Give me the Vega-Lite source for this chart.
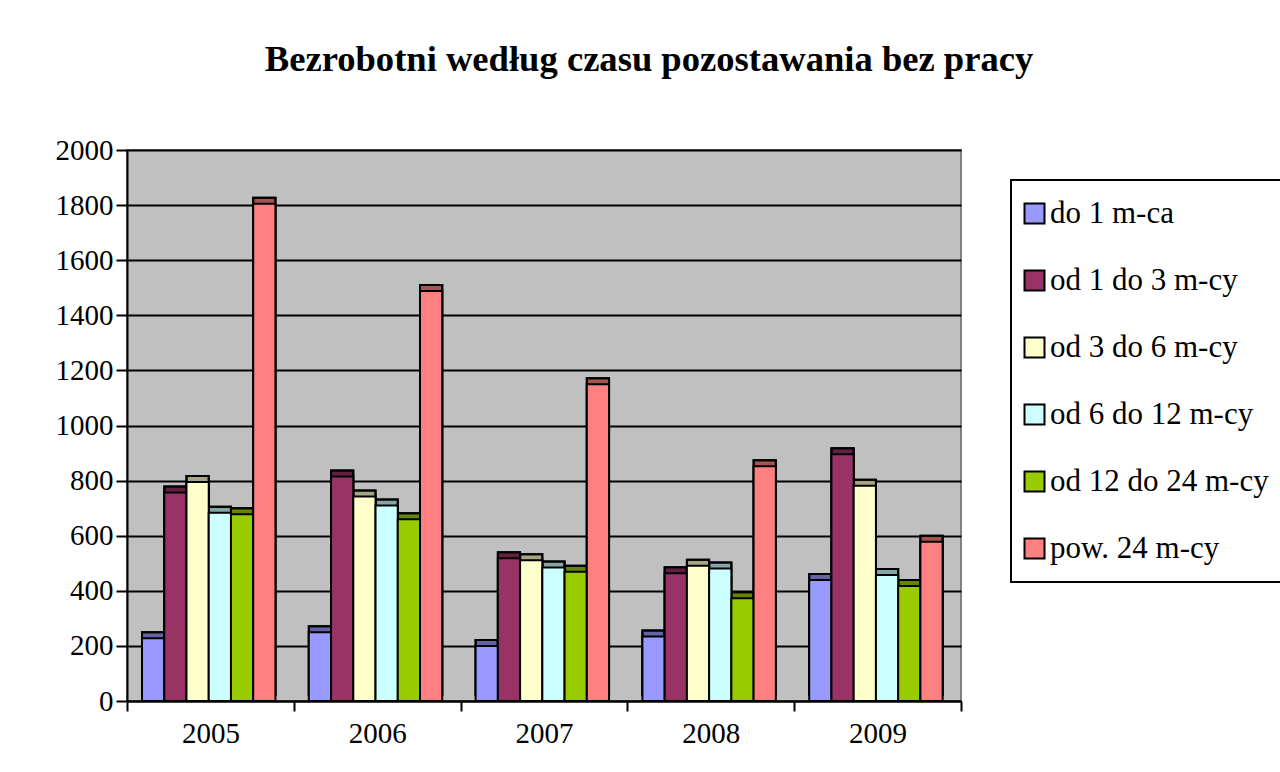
{
  "$schema": "https://vega.github.io/schema/vega-lite/v6.json",
  "width": 834,
  "height": 551,
  "autosize": {"type": "none"},
  "padding": {"left": 127, "top": 150, "right": 319, "bottom": 71},
  "background": "white",
  "title": {
    "text": "Bezrobotni według czasu pozostawania bez pracy",
    "font": "Liberation Serif",
    "fontSize": 36.6,
    "fontWeight": "bold",
    "color": "black",
    "anchor": "middle",
    "baseline": "alphabetic",
    "dx": 105,
    "offset": 28
  },
  "data": {
    "values": [
      {"year": "2005", "series": "do 1 m-ca", "value": 228},
      {"year": "2005", "series": "od 1 do 3 m-cy", "value": 757},
      {"year": "2005", "series": "od 3 do 6 m-cy", "value": 795},
      {"year": "2005", "series": "od 6 do 12 m-cy", "value": 683},
      {"year": "2005", "series": "od 12 do 24 m-cy", "value": 678},
      {"year": "2005", "series": "pow. 24 m-cy", "value": 1805},
      {"year": "2006", "series": "do 1 m-ca", "value": 250},
      {"year": "2006", "series": "od 1 do 3 m-cy", "value": 815},
      {"year": "2006", "series": "od 3 do 6 m-cy", "value": 742},
      {"year": "2006", "series": "od 6 do 12 m-cy", "value": 710},
      {"year": "2006", "series": "od 12 do 24 m-cy", "value": 660},
      {"year": "2006", "series": "pow. 24 m-cy", "value": 1488},
      {"year": "2007", "series": "do 1 m-ca", "value": 200},
      {"year": "2007", "series": "od 1 do 3 m-cy", "value": 518},
      {"year": "2007", "series": "od 3 do 6 m-cy", "value": 511},
      {"year": "2007", "series": "od 6 do 12 m-cy", "value": 485},
      {"year": "2007", "series": "od 12 do 24 m-cy", "value": 469},
      {"year": "2007", "series": "pow. 24 m-cy", "value": 1150},
      {"year": "2008", "series": "do 1 m-ca", "value": 234},
      {"year": "2008", "series": "od 1 do 3 m-cy", "value": 464},
      {"year": "2008", "series": "od 3 do 6 m-cy", "value": 491},
      {"year": "2008", "series": "od 6 do 12 m-cy", "value": 481},
      {"year": "2008", "series": "od 12 do 24 m-cy", "value": 373},
      {"year": "2008", "series": "pow. 24 m-cy", "value": 852},
      {"year": "2009", "series": "do 1 m-ca", "value": 439},
      {"year": "2009", "series": "od 1 do 3 m-cy", "value": 896},
      {"year": "2009", "series": "od 3 do 6 m-cy", "value": 781},
      {"year": "2009", "series": "od 6 do 12 m-cy", "value": 457},
      {"year": "2009", "series": "od 12 do 24 m-cy", "value": 417},
      {"year": "2009", "series": "pow. 24 m-cy", "value": 578}
    ]
  },
  "encoding": {
    "x": {
      "field": "year",
      "type": "nominal",
      "scale": {"paddingInner": 0, "paddingOuter": 0},
      "axis": {
        "title": null,
        "labelAngle": 0,
        "labelFont": "Liberation Serif",
        "labelFontSize": 29,
        "labelColor": "black",
        "tickBand": "extent",
        "tickSize": 10,
        "tickWidth": 2,
        "tickColor": "black",
        "domainColor": "black",
        "domainWidth": 2,
        "labelPadding": 8,
        "grid": false
      }
    },
    "xOffset": {
      "field": "series",
      "type": "nominal",
      "scale": {"domain": ["do 1 m-ca", "od 1 do 3 m-cy", "od 3 do 6 m-cy", "od 6 do 12 m-cy", "od 12 do 24 m-cy", "pow. 24 m-cy"], "paddingInner": 0, "paddingOuter": 0.75, "align": 0.45}
    },
    "y": {
      "field": "value",
      "type": "quantitative",
      "scale": {"domain": [0, 2000], "nice": false},
      "axis": {
        "title": null,
        "values": [0, 200, 400, 600, 800, 1000, 1200, 1400, 1600, 1800, 2000],
        "format": "d",
        "labelFont": "Liberation Serif",
        "labelFontSize": 29,
        "labelColor": "black",
        "tickColor": "black",
        "tickSize": 11,
        "tickWidth": 2,
        "domainColor": "black",
        "domainWidth": 2,
        "gridColor": "black",
        "gridWidth": 2,
        "labelPadding": 3
      }
    },
    "color": {
      "field": "series",
      "type": "nominal",
      "scale": {
        "domain": ["do 1 m-ca", "od 1 do 3 m-cy", "od 3 do 6 m-cy", "od 6 do 12 m-cy", "od 12 do 24 m-cy", "pow. 24 m-cy"],
        "range": ["#9999FF", "#993366", "#FFFFCC", "#CCFFFF", "#99CC00", "#FF8080"]
      },
      "legend": {
        "title": null,
        "orient": "none",
        "legendX": 884,
        "legendY": 30,
        "strokeColor": "black",
        "fillColor": "white",
        "padding": 18,
        "rowPadding": 35,
        "labelFont": "Liberation Serif",
        "labelFontSize": 31,
        "labelColor": "black",
        "labelLimit": 400,
        "labelOffset": 0,
        "symbolOffset": -10,
        "symbolType": "square",
        "symbolSize": 400,
        "symbolStrokeColor": "black",
        "symbolStrokeWidth": 2,
        "symbolOpacity": 1,
        "encode": {"legend": {"update": {"strokeWidth": {"value": 2}}}}
      }
    }
  },
  "layer": [
    {
      "mark": {"type": "bar", "yOffset": -6, "y2Offset": -6, "stroke": "black", "strokeWidth": 2}
    },
    {
      "mark": {"type": "bar", "yOffset": -6, "y2Offset": -6, "fill": "black", "fillOpacity": 0.35, "stroke": "black", "strokeWidth": 2}
    },
    {
      "mark": {"type": "bar", "stroke": "black", "strokeWidth": 2}
    }
  ],
  "config": {
    "font": "Liberation Serif",
    "axis": {"labelFont": "Liberation Serif"},
    "legend": {"labelFont": "Liberation Serif"},
    "view": {"fill": "#C0C0C0", "stroke": "#808080", "strokeWidth": 2}
  }
}
